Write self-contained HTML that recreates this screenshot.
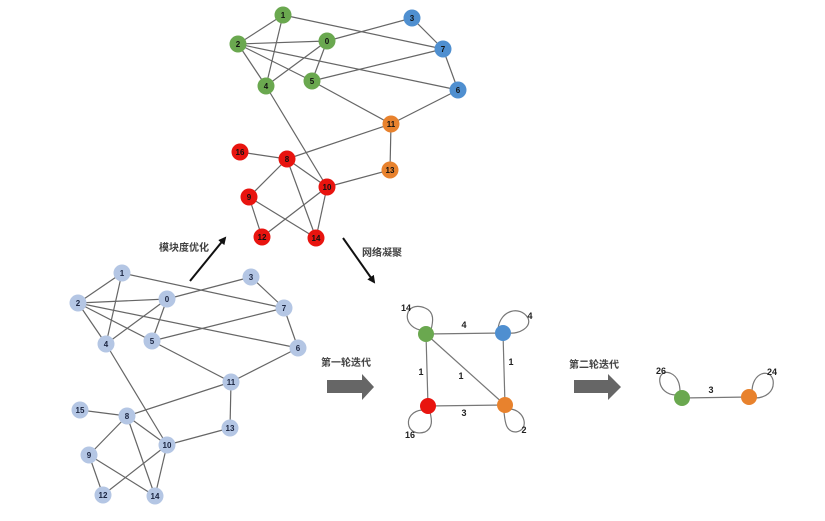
<!DOCTYPE html>
<html><head><meta charset="utf-8"><style>
html,body{margin:0;padding:0;background:#fff;}
svg{display:block;}
text{font-family:"Liberation Sans","Noto Sans CJK SC",sans-serif;font-weight:bold;}
</style></head><body>
<svg width="825" height="521" viewBox="0 0 825 521" xmlns="http://www.w3.org/2000/svg">
<defs>
<marker id="ah" markerWidth="8" markerHeight="8" refX="6" refY="4" orient="auto" markerUnits="userSpaceOnUse"><path d="M0,0 L8,4 L0,8 Z" fill="#111"/></marker>
</defs>
<!-- top graph edges -->
<g stroke="#666" stroke-width="1.2">
<line x1="283" y1="15" x2="238" y2="44"/><line x1="283" y1="15" x2="266" y2="86"/><line x1="283" y1="15" x2="443" y2="49"/>
<line x1="238" y1="44" x2="327" y2="41"/><line x1="238" y1="44" x2="266" y2="86"/><line x1="238" y1="44" x2="312" y2="81"/><line x1="238" y1="44" x2="458" y2="90"/>
<line x1="327" y1="41" x2="266" y2="86"/><line x1="327" y1="41" x2="312" y2="81"/><line x1="327" y1="41" x2="412" y2="18"/>
<line x1="412" y1="18" x2="443" y2="49"/><line x1="443" y1="49" x2="312" y2="81"/><line x1="443" y1="49" x2="458" y2="90"/>
<line x1="458" y1="90" x2="391" y2="124"/><line x1="312" y1="81" x2="391" y2="124"/><line x1="266" y1="86" x2="327" y2="187"/>
<line x1="391" y1="124" x2="287" y2="159"/><line x1="391" y1="124" x2="390" y2="170"/><line x1="240" y1="152" x2="287" y2="159"/>
<line x1="287" y1="159" x2="327" y2="187"/><line x1="287" y1="159" x2="249" y2="197"/><line x1="287" y1="159" x2="316" y2="238"/>
<line x1="327" y1="187" x2="390" y2="170"/><line x1="327" y1="187" x2="262" y2="237"/><line x1="327" y1="187" x2="316" y2="238"/>
<line x1="249" y1="197" x2="262" y2="237"/><line x1="249" y1="197" x2="316" y2="238"/>
</g>
<g font-size="8" text-anchor="middle">
<g fill="#6aa84f"><circle cx="283" cy="15" r="8.5"/><circle cx="238" cy="44" r="8.5"/><circle cx="327" cy="41" r="8.5"/><circle cx="266" cy="86" r="8.5"/><circle cx="312" cy="81" r="8.5"/></g>
<g fill="#4f8fd0"><circle cx="412" cy="18" r="8.5"/><circle cx="443" cy="49" r="8.5"/><circle cx="458" cy="90" r="8.5"/></g>
<g fill="#e8822d"><circle cx="391" cy="124" r="8.5"/><circle cx="390" cy="170" r="8.5"/></g>
<g fill="#e8140f"><circle cx="240" cy="152" r="8.5"/><circle cx="287" cy="159" r="8.5"/><circle cx="327" cy="187" r="8.5"/><circle cx="249" cy="197" r="8.5"/><circle cx="262" cy="237" r="8.5"/><circle cx="316" cy="238" r="8.5"/></g>
<g fill="#111">
<text x="283" y="18">1</text><text x="238" y="47">2</text><text x="327" y="44">0</text><text x="266" y="89">4</text><text x="312" y="84">5</text>
<text x="412" y="21">3</text><text x="443" y="52">7</text><text x="458" y="93">6</text><text x="391" y="127">11</text><text x="390" y="173">13</text>
<text x="240" y="155">16</text><text x="287" y="162">8</text><text x="327" y="190">10</text><text x="249" y="200">9</text><text x="262" y="240">12</text><text x="316" y="241">14</text>
</g>
</g>
<!-- bottom graph -->
<g stroke="#666" stroke-width="1.2">
<line x1="122" y1="273" x2="78" y2="303"/><line x1="122" y1="273" x2="106" y2="344"/><line x1="122" y1="273" x2="284" y2="308"/>
<line x1="78" y1="303" x2="167" y2="299"/><line x1="78" y1="303" x2="106" y2="344"/><line x1="78" y1="303" x2="152" y2="341"/><line x1="78" y1="303" x2="298" y2="348"/>
<line x1="167" y1="299" x2="106" y2="344"/><line x1="167" y1="299" x2="152" y2="341"/><line x1="167" y1="299" x2="251" y2="277"/>
<line x1="251" y1="277" x2="284" y2="308"/><line x1="284" y1="308" x2="152" y2="341"/><line x1="284" y1="308" x2="298" y2="348"/>
<line x1="298" y1="348" x2="231" y2="382"/><line x1="152" y1="341" x2="231" y2="382"/><line x1="106" y1="344" x2="167" y2="445"/>
<line x1="231" y1="382" x2="127" y2="416"/><line x1="231" y1="382" x2="230" y2="428"/><line x1="80" y1="410" x2="127" y2="416"/>
<line x1="127" y1="416" x2="167" y2="445"/><line x1="127" y1="416" x2="89" y2="455"/><line x1="127" y1="416" x2="155" y2="496"/>
<line x1="167" y1="445" x2="230" y2="428"/><line x1="167" y1="445" x2="103" y2="495"/><line x1="167" y1="445" x2="155" y2="496"/>
<line x1="89" y1="455" x2="103" y2="495"/><line x1="89" y1="455" x2="155" y2="496"/>
</g>
<g font-size="8" text-anchor="middle">
<g fill="#b4c6e4">
<circle cx="122" cy="273" r="8.5"/><circle cx="251" cy="277" r="8.5"/><circle cx="78" cy="303" r="8.5"/><circle cx="167" cy="299" r="8.5"/><circle cx="284" cy="308" r="8.5"/><circle cx="106" cy="344" r="8.5"/><circle cx="152" cy="341" r="8.5"/><circle cx="298" cy="348" r="8.5"/><circle cx="231" cy="382" r="8.5"/><circle cx="80" cy="410" r="8.5"/><circle cx="127" cy="416" r="8.5"/><circle cx="230" cy="428" r="8.5"/><circle cx="167" cy="445" r="8.5"/><circle cx="89" cy="455" r="8.5"/><circle cx="103" cy="495" r="8.5"/><circle cx="155" cy="496" r="8.5"/>
</g>
<g fill="#1a2440">
<text x="122" y="276">1</text><text x="251" y="280">3</text><text x="78" y="306">2</text><text x="167" y="302">0</text><text x="284" y="311">7</text><text x="106" y="347">4</text><text x="152" y="344">5</text><text x="298" y="351">6</text><text x="231" y="385">11</text><text x="80" y="413">15</text><text x="127" y="419">8</text><text x="230" y="431">13</text><text x="167" y="448">10</text><text x="89" y="458">9</text><text x="103" y="498">12</text><text x="155" y="499">14</text>
</g>
</g>
<!-- black arrows -->
<line x1="190" y1="281" x2="225" y2="238" stroke="#111" stroke-width="2" marker-end="url(#ah)"/>
<line x1="343" y1="238" x2="374" y2="282" stroke="#111" stroke-width="2" marker-end="url(#ah)"/>
<text x="184" y="251" font-size="10" fill="#444" text-anchor="middle">模块度优化</text>
<text x="382" y="256" font-size="10" fill="#444" text-anchor="middle">网络凝聚</text>
<!-- gray block arrows -->
<path d="M327,380 H362 V374 L374,387 L362,400 V393 H327 Z" fill="#666"/>
<path d="M574,380 H608 V374 L621,387 L608,400 V393 H574 Z" fill="#666"/>
<text x="346" y="366" font-size="10" fill="#444" text-anchor="middle">第一轮迭代</text>
<text x="594" y="368" font-size="10" fill="#444" text-anchor="middle">第二轮迭代</text>
<!-- condensed graph -->
<g stroke="#777" stroke-width="1.2" fill="none">
<line x1="426" y1="334" x2="503" y2="333"/><line x1="426" y1="334" x2="428" y2="406"/><line x1="426" y1="334" x2="505" y2="405"/>
<line x1="503" y1="333" x2="505" y2="405"/><line x1="428" y1="406" x2="505" y2="405"/>
<path d="M420,330 C400,325 405,300 425,308 C435,312 433,322 431,330"/>
<path d="M498,329 C500,310 520,305 528,318 C532,328 518,334 510,333"/>
<path d="M422,410 C402,412 405,438 425,432 C433,428 432,420 430,412"/>
<path d="M510,409 C525,410 530,430 516,432 C505,432 505,420 504,412"/>
<line x1="682" y1="398" x2="749" y2="397"/>
<path d="M676,395 C656,395 655,368 670,373 C680,377 680,388 680,392"/>
<path d="M752,392 C752,372 770,368 773,380 C775,392 765,398 755,398"/>
</g>
<circle cx="426" cy="334" r="8" fill="#6aa84f"/>
<circle cx="503" cy="333" r="8" fill="#4f8fd0"/>
<circle cx="428" cy="406" r="8" fill="#e8140f"/>
<circle cx="505" cy="405" r="8" fill="#e8822d"/>
<circle cx="682" cy="398" r="8" fill="#6aa84f"/>
<circle cx="749" cy="397" r="8" fill="#e8822d"/>
<g font-size="9" fill="#222" text-anchor="middle">
<text x="406" y="311">14</text><text x="464" y="328">4</text><text x="530" y="319">4</text>
<text x="421" y="375">1</text><text x="461" y="379">1</text><text x="511" y="365">1</text>
<text x="464" y="416">3</text><text x="410" y="438">16</text><text x="524" y="433">2</text>
<text x="661" y="374">26</text><text x="772" y="375">24</text><text x="711" y="393">3</text>
</g>
</svg>
</body></html>
